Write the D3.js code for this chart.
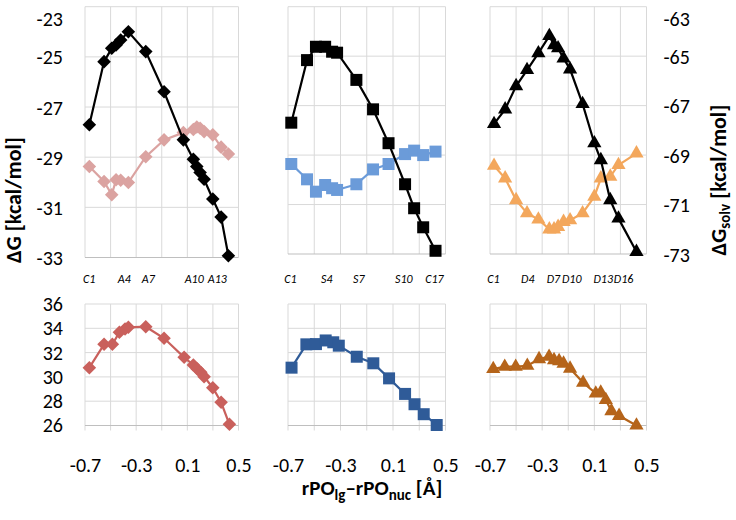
<!DOCTYPE html>
<html><head><meta charset="utf-8">
<script src="https://cdn.jsdelivr.net/npm/d3@7"></script>
<style>body{margin:0;background:#fff}svg{display:block}</style>
</head><body>
<svg id="chart" width="736" height="520"></svg>
<script>
// ---------------- data ----------------
const gridX = [-0.7, -0.5, -0.3, -0.1, 0.1, 0.3, 0.5];
const xTickValues = [-0.7, -0.3, 0.1, 0.5];
const dGTicks = [-33, -31, -29, -27, -25, -23];
const dGsolvTicks = [-73, -71, -69, -67, -65, -63];
const energyTicks = [26, 28, 30, 32, 34, 36];

// column A (diamonds)
const xA = [-0.666, -0.551, -0.491, -0.457, -0.421, -0.361, -0.225, -0.082, 0.069, 0.147, 0.174, 0.200, 0.231, 0.299, 0.364, 0.421];
const dG_A = [-27.71, -25.19, -24.66, -24.53, -24.33, -24.00, -24.79, -26.39, -28.31, -29.08, -29.37, -29.61, -29.88, -30.67, -31.39, -32.93];
const dGsolv_A = [-69.37, -69.97, -70.50, -69.90, -69.92, -70.01, -68.98, -68.31, -68.02, -67.90, -67.80, -67.85, -67.98, -68.11, -68.60, -68.87];
const xA_bottom = [-0.666, -0.551, -0.486, -0.431, -0.387, -0.361, -0.225, -0.082, 0.075, 0.147, 0.178, 0.205, 0.231, 0.299, 0.364, 0.429];
const E_A = [30.76, 32.68, 32.68, 33.67, 33.94, 34.08, 34.13, 33.18, 31.61, 30.98, 30.65, 30.38, 30.02, 29.11, 27.91, 26.10];
const labelsA = ["C1", "A4", "A7", "A10", "A13"];
const labelXA = [-0.667, -0.393, -0.205, 0.154, 0.334];

// column S (squares)
const xS = [-0.675, -0.555, -0.487, -0.417, -0.364, -0.326, -0.179, -0.052, 0.066, 0.192, 0.261, 0.330, 0.424];
const dG_S = [-27.69, -25.16, -24.62, -24.62, -24.82, -24.86, -25.96, -27.15, -28.52, -30.18, -31.15, -31.92, -32.87];
const dGsolv_S = [-69.36, -69.98, -70.48, -70.21, -70.34, -70.41, -70.18, -69.58, -69.36, -68.96, -68.82, -69.00, -68.86];
const xS_bottom = [-0.673, -0.560, -0.487, -0.413, -0.355, -0.313, -0.176, -0.050, 0.070, 0.192, 0.264, 0.334, 0.433];
const E_S = [30.76, 32.68, 32.70, 33.00, 32.85, 32.57, 31.66, 31.12, 29.88, 28.60, 27.75, 26.93, 26.04];
const labelsS = ["C1", "S4", "S7", "S10", "C17"];
const labelXS = [-0.681, -0.405, -0.160, 0.183, 0.415];

// column D (triangles)
const xD = [-0.669, -0.584, -0.500, -0.416, -0.329, -0.245, -0.209, -0.178, -0.136, -0.086, 0.010, 0.100, 0.150, 0.222, 0.285, 0.423];
const dG_D = [-67.74, -67.15, -66.21, -65.56, -64.88, -64.18, -64.55, -64.68, -65.09, -65.53, -66.93, -68.52, -69.20, -70.82, -71.56, -72.91];
const dGsolv_D = [-69.43, -69.94, -70.82, -71.35, -71.60, -72.00, -72.00, -71.90, -71.70, -71.63, -71.35, -70.68, -69.94, -69.87, -69.40, -68.93];
const xD_bottom = [-0.675, -0.587, -0.503, -0.414, -0.324, -0.247, -0.209, -0.170, -0.136, -0.086, 0.014, 0.111, 0.149, 0.188, 0.231, 0.290, 0.423];
const E_D = [30.65, 30.84, 30.84, 30.92, 31.47, 31.66, 31.39, 31.30, 31.10, 30.69, 29.53, 28.64, 28.72, 28.10, 27.19, 26.80, 26.00];
const labelsD = ["C1", "D4", "D7", "D10", "D13", "D16"];
const labelXD = [-0.674, -0.410, -0.214, -0.073, 0.168, 0.324];

// ---------------- layout ----------------
const FONT = "Carlito, Lato, 'Open Sans', sans-serif";
const TICK_FS = 20;
const svg = d3.select("#chart");
const cols = [
  {x0: 85, x1: 238.5, topBottom: 257.5, shape: "diamond",
   top: [{x: xA, y: dG_A, color: "#000000"}, {x: xA, y: dGsolv_A, color: "#dba3a1"}],
   bottom: {x: xA_bottom, y: E_A, color: "#c9605c"}, labels: labelsA, labelX: labelXA},
  {x0: 288, x1: 445.5, topBottom: 254, shape: "square",
   top: [{x: xS, y: dG_S, color: "#000000"}, {x: xS, y: dGsolv_S, color: "#6b9bd9"}],
   bottom: {x: xS_bottom, y: E_S, color: "#2f5b98"}, labels: labelsS, labelX: labelXS},
  {x0: 490, x1: 646.5, topBottom: 254, shape: "triangle",
   top: [{x: xD, y: dG_D, color: "#000000"}, {x: xD, y: dGsolv_D, color: "#f3a75c"}],
   bottom: {x: xD_bottom, y: E_D, color: "#b5641a"}, labels: labelsD, labelX: labelXD}
];
const TOP_Y0 = 6.7, BOT_Y0 = 304, BOT_Y1 = 425.5;
const fmtNum = d => String(d).replace("\u2212", "-");
const fmtX = d => d3.format(".1f")(d).replace("\u2212", "-");

function symbolPath(shape) {
  if (shape === "diamond") return d3.symbol(d3.symbolSquare, 92)();
  if (shape === "square") return d3.symbol(d3.symbolSquare, 144)();
  return d3.symbol(d3.symbolTriangle, 88)();
}

function drawGrid(g, x, y, yTicks, y0, y1, extend) {
  g.append("g").selectAll("line").data(gridX).join("line")
    .attr("x1", d => x(d)).attr("x2", d => x(d))
    .attr("y1", y0).attr("y2", y1 + extend)
    .attr("stroke", "#d9d9d9").attr("stroke-width", 1);
  g.append("g").selectAll("line").data(yTicks).join("line")
    .attr("x1", x.range()[0]).attr("x2", x.range()[1])
    .attr("y1", d => y(d)).attr("y2", d => y(d))
    .attr("stroke", d => d === yTicks[0] ? "#bfbfbf" : "#d9d9d9").attr("stroke-width", 1);
}

function drawSeries(g, s, x, y, shape) {
  const pts = s.x.map((v, i) => [x(v), y(s.y[i])]);
  g.append("path").attr("d", d3.line()(pts)).attr("fill", "none")
    .attr("stroke", s.color).attr("stroke-width", 2.2);
  g.append("g").selectAll("path").data(pts).join("path")
    .attr("d", symbolPath(shape))
    .attr("transform", d => `translate(${d[0]},${d[1]})` + (shape === "diamond" ? " rotate(45)" : ""))
    .attr("fill", s.color);
}

function styleTickText(sel) {
  sel.attr("font-family", FONT).attr("font-size", TICK_FS).attr("fill", "#000");
}

cols.forEach((c, ci) => {
  const x = d3.scaleLinear().domain([-0.7, 0.5]).range([c.x0, c.x1]);
  // top panel
  const yTop = d3.scaleLinear().domain([-33, -23]).range([c.topBottom, TOP_Y0]);
  const ySolv = d3.scaleLinear().domain([-73, -63]).range([c.topBottom, TOP_Y0]);
  const gT = svg.append("g");
  drawGrid(gT, x, yTop, dGTicks, TOP_Y0, c.topBottom, 0);
  drawSeries(gT, c.top[1], x, ySolv, c.shape);
  drawSeries(gT, c.top[0], x, ci === 2 ? ySolv : yTop, c.shape);
  // category labels
  gT.append("g").selectAll("text").data(c.labels).join("text")
    .attr("x", (d, i) => x(c.labelX[i])).attr("y", 278.5)
    .attr("dy", "0.35em").attr("text-anchor", "middle")
    .attr("font-family", FONT).attr("font-style", "italic").attr("font-size", 12)
    .attr("fill", "#000").text(d => d);

  if (ci === 0) {
    const ax = d3.axisLeft(yTop).tickValues(dGTicks).tickSize(0).tickPadding(22);
    const a = svg.append("g").attr("transform", `translate(${c.x0},0)`).call(ax);
    a.select(".domain").remove();
    styleTickText(a.selectAll("text"));
    a.selectAll("text").text(fmtNum).attr("dy", d => d === -23 ? "0.95em" : "0.35em");
  }
  if (ci === 2) {
    const ax = d3.axisRight(ySolv).tickValues(dGsolvTicks).tickSize(0).tickPadding(17);
    const a = svg.append("g").attr("transform", `translate(${c.x1},0)`).call(ax);
    a.select(".domain").remove();
    styleTickText(a.selectAll("text"));
    a.selectAll("text").text(fmtNum).attr("dy", d => d === -63 ? "0.95em" : "0.35em");
  }

  // bottom panel
  const yB = d3.scaleLinear().domain([26, 36]).range([BOT_Y1, BOT_Y0]);
  const gB = svg.append("g");
  drawGrid(gB, x, yB, energyTicks, BOT_Y0, BOT_Y1, 5);
  drawSeries(gB, c.bottom, x, yB, c.shape);
  const axB = d3.axisBottom(x).tickValues(xTickValues).tickSize(0);
  const aB = svg.append("g").attr("transform", `translate(0,${BOT_Y1})`).call(axB);
  aB.select(".domain").remove();
  styleTickText(aB.selectAll("text"));
  aB.selectAll("text").attr("y", 465 - BOT_Y1).attr("dy", "0.35em").text(fmtX);
  if (ci === 0) {
    const ax = d3.axisLeft(yB).tickValues(energyTicks).tickSize(0).tickPadding(22);
    const a = svg.append("g").attr("transform", `translate(${c.x0},0)`).call(ax);
    a.select(".domain").remove();
    styleTickText(a.selectAll("text"));
  }
});

// axis titles
svg.append("text").attr("transform", "translate(21,200) rotate(-90)")
  .attr("text-anchor", "middle").attr("font-family", FONT).attr("font-weight", "bold")
  .attr("font-size", 22).attr("fill", "#000").text("ΔG [kcal/mol]");

const rt = svg.append("text").attr("transform", "translate(726,180) rotate(-90)")
  .attr("text-anchor", "middle").attr("font-family", FONT).attr("font-weight", "bold")
  .attr("font-size", 22).attr("fill", "#000");
rt.append("tspan").text("ΔG");
rt.append("tspan").attr("font-size", 15).attr("dy", 4).text("solv");
rt.append("tspan").attr("dy", -4).text(" [kcal/mol]");

const xt = svg.append("text").attr("x", 372).attr("y", 495)
  .attr("text-anchor", "middle").attr("font-family", FONT).attr("font-weight", "bold")
  .attr("font-size", 21).attr("fill", "#000");
xt.append("tspan").text("rPO");
xt.append("tspan").attr("font-size", 15).attr("dy", 5).text("lg");
xt.append("tspan").attr("dy", -5).text("–rPO");
xt.append("tspan").attr("font-size", 15).attr("dy", 5).text("nuc");
xt.append("tspan").attr("dy", -5).text(" [Å]");
</script>
</body></html>
